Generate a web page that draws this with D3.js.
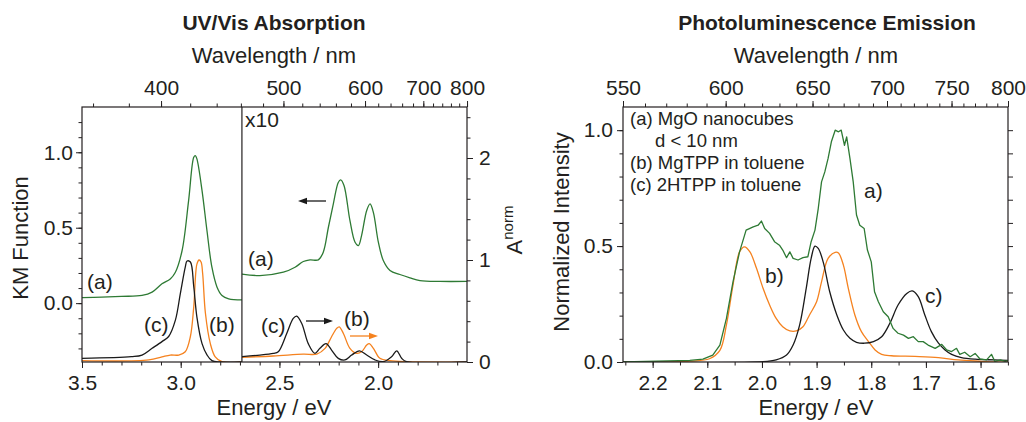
<!DOCTYPE html>
<html><head><meta charset="utf-8">
<script src="https://cdn.jsdelivr.net/npm/d3@7"></script>
<style>
body{margin:0;background:#fff;}
svg text{font-family:'Liberation Sans',Arial,Helvetica,sans-serif;fill:#231f20;}
</style></head><body>
<svg id="chart" width="1026" height="422"></svg>
<script>
// ---------------- DATA ----------------
// UV/Vis absorption, Soret region (left sub-panel)
const uvA1_E  = [3.50, 3.40, 3.30, 3.196, 3.145, 3.095, 3.053, 3.027, 2.993, 2.960, 2.934, 2.926, 2.918, 2.892, 2.867, 2.842, 2.816, 2.791, 2.757, 2.69];
const uvA1_KM = [0.036, 0.040, 0.045, 0.051, 0.073, 0.128, 0.160, 0.205, 0.349, 0.680, 0.967, 0.978, 0.956, 0.746, 0.480, 0.238, 0.106, 0.051, 0.029, 0.022];
const uvB1_E  = [3.50, 3.162, 3.095, 3.053, 3.010, 2.977, 2.951, 2.934, 2.918, 2.907, 2.897, 2.889, 2.875, 2.850, 2.825, 2.791, 2.69];
const uvB1_A  = [0.013, 0.020, 0.050, 0.068, 0.068, 0.100, 0.250, 0.540, 0.960, 1.000, 0.980, 0.870, 0.480, 0.180, 0.050, 0.003, 0.0];
const uvC1_E  = [3.50, 3.25, 3.196, 3.145, 3.095, 3.061, 3.027, 3.002, 2.977, 2.968, 2.951, 2.934, 2.918, 2.892, 2.867, 2.842, 2.80, 2.69];
const uvC1_A  = [0.036, 0.052, 0.068, 0.134, 0.200, 0.250, 0.410, 0.670, 0.930, 0.990, 0.980, 0.740, 0.440, 0.180, 0.070, 0.013, 0.0, 0.0];
// Q-band region (right sub-panel), green shown x10 on KM axis
const uvA2_E  = [2.70, 2.599, 2.48, 2.421, 2.379, 2.345, 2.303, 2.278, 2.252, 2.227, 2.202, 2.19, 2.173, 2.143, 2.117, 2.10, 2.084, 2.058, 2.041, 2.024, 1.999, 1.974, 1.94, 1.89, 1.839, 1.788, 1.687, 1.55];
const uvA2_KM = [0.195, 0.183, 0.205, 0.238, 0.276, 0.287, 0.287, 0.338, 0.503, 0.658, 0.800, 0.817, 0.780, 0.548, 0.404, 0.382, 0.448, 0.614, 0.658, 0.600, 0.404, 0.283, 0.217, 0.190, 0.168, 0.150, 0.144, 0.144];
const uvB2_E  = [2.70, 2.531, 2.379, 2.311, 2.269, 2.236, 2.21, 2.197, 2.176, 2.143, 2.109, 2.084, 2.058, 2.045, 2.024, 1.991, 1.94, 1.856, 1.55];
const uvB2_A  = [0.046, 0.059, 0.078, 0.078, 0.134, 0.248, 0.330, 0.345, 0.280, 0.134, 0.085, 0.100, 0.166, 0.180, 0.134, 0.036, 0.013, 0.003, 0.0];
const uvC2_E  = [2.70, 2.599, 2.531, 2.506, 2.463, 2.43, 2.413, 2.387, 2.354, 2.32, 2.295, 2.264, 2.236, 2.202, 2.168, 2.134, 2.095, 2.058, 2.016, 1.974, 1.932, 1.906, 1.881, 1.856, 1.55];
const uvC2_A  = [0.052, 0.068, 0.085, 0.100, 0.280, 0.427, 0.450, 0.378, 0.180, 0.085, 0.134, 0.180, 0.117, 0.036, 0.020, 0.068, 0.110, 0.068, 0.020, 0.003, 0.052, 0.110, 0.036, 0.003, 0.0];
// Photoluminescence
const plA_E = [2.254, 2.132, 2.108, 2.090, 2.077, 2.065, 2.053, 2.041, 2.029, 2.016, 2.007, 2.001, 1.995, 1.986, 1.977, 1.968, 1.962, 1.955, 1.949, 1.943, 1.934, 1.925, 1.916, 1.910, 1.903, 1.897, 1.891, 1.885, 1.879, 1.873, 1.866, 1.860, 1.855, 1.849, 1.845, 1.839, 1.833, 1.827, 1.821, 1.813, 1.807, 1.800, 1.794, 1.787, 1.778, 1.769, 1.760, 1.751, 1.741, 1.732, 1.723, 1.714, 1.705, 1.696, 1.683, 1.671, 1.662, 1.653, 1.644, 1.638, 1.629, 1.619, 1.610, 1.601, 1.589, 1.580, 1.574, 1.564, 1.555, 1.550];
const plA_I = [0, 0.007, 0.012, 0.03, 0.073, 0.188, 0.346, 0.475, 0.569, 0.583, 0.59, 0.608, 0.576, 0.555, 0.519, 0.504, 0.483, 0.45, 0.475, 0.447, 0.44, 0.45, 0.454, 0.519, 0.569, 0.662, 0.777, 0.82, 0.878, 0.95, 1.0, 0.993, 1.0, 0.935, 0.971, 0.878, 0.777, 0.634, 0.59, 0.576, 0.483, 0.432, 0.303, 0.26, 0.217, 0.195, 0.145, 0.124, 0.116, 0.102, 0.109, 0.088, 0.088, 0.073, 0.059, 0.076, 0.052, 0.045, 0.059, 0.033, 0.042, 0.023, 0.037, 0.013, 0.009, 0.033, 0.003, 0.009, 0.003, 0.006];
const plB_E = [2.254, 2.132, 2.096, 2.077, 2.065, 2.053, 2.041, 2.032, 2.022, 2.010, 1.998, 1.986, 1.974, 1.962, 1.949, 1.937, 1.925, 1.913, 1.900, 1.891, 1.879, 1.866, 1.860, 1.851, 1.842, 1.830, 1.818, 1.805, 1.793, 1.781, 1.763, 1.720, 1.677, 1.641, 1.598, 1.574, 1.550];
const plB_I = [0, 0.004, 0.014, 0.05, 0.16, 0.332, 0.475, 0.497, 0.475, 0.404, 0.318, 0.246, 0.188, 0.152, 0.134, 0.134, 0.152, 0.203, 0.26, 0.346, 0.447, 0.473, 0.47, 0.418, 0.318, 0.203, 0.131, 0.088, 0.052, 0.033, 0.027, 0.024, 0.019, 0.009, 0.003, 0, 0];
const plC_E = [2.254, 1.998, 1.974, 1.955, 1.943, 1.931, 1.919, 1.910, 1.903, 1.897, 1.888, 1.876, 1.863, 1.851, 1.839, 1.827, 1.812, 1.796, 1.781, 1.766, 1.751, 1.735, 1.725, 1.714, 1.702, 1.690, 1.677, 1.665, 1.653, 1.635, 1.610, 1.574, 1.550];
const plC_I = [0, 0.001, 0.009, 0.03, 0.073, 0.16, 0.318, 0.447, 0.50, 0.49, 0.432, 0.303, 0.203, 0.138, 0.102, 0.085, 0.081, 0.088, 0.109, 0.167, 0.246, 0.296, 0.307, 0.282, 0.203, 0.131, 0.081, 0.052, 0.033, 0.019, 0.012, 0.009, 0.007];
// Tick labels
const uvEnergyTicks = [3.5, 3.0, 2.5, 2.0];
const uvNmTicks = [400, 500, 600, 700, 800];
const kmTicks = [0.0, 0.5, 1.0];
const aNormTicks = [0, 1, 2];
const plEnergyTicks = [2.2, 2.1, 2.0, 1.9, 1.8, 1.7, 1.6];
const plNmTicks = [550, 600, 650, 700, 750, 800];
const plITicks = [0.0, 0.5, 1.0];
const legendLines = ["(a) MgO nanocubes", "d < 10 nm", "(b) MgTPP in toluene", "(c) 2HTPP in toluene"];

// ---------------- STYLE ----------------
const GREEN = '#2e7a34', ORANGE = '#f5821f', BLACK = '#1a1a1a', INK = '#231f20';
const FS = 21;      // tick labels, annotations
const FS_AX = 22;   // axis titles
const FS_T = 21;    // panel titles (bold)
const HC = 1239.84;

const svg = d3.select('#chart');
const defs = svg.append('defs');

function nmScale(xE){
  const f = nm => xE(HC/nm);
  f.copy = () => nmScale(xE);
  f.range = () => xE.range();
  f.domain = () => xE.domain().map(e => HC/e);
  return f;
}
function styleAxis(g){
  g.select('.domain').remove();
  g.selectAll('line').attr('stroke', INK).attr('stroke-width', 1);
  g.selectAll('text').attr('font-size', FS).attr('fill', INK)
    .style('font-family', "'Liberation Sans',Arial,Helvetica,sans-serif");
  return g;
}
function addAxis(gen, tx, ty){
  const g = svg.append('g').attr('transform', `translate(${tx},${ty})`).call(gen);
  return styleAxis(g);
}
function clip(id, x0, y0, x1, y1){
  defs.append('clipPath').attr('id', id).append('rect')
    .attr('x', x0).attr('y', y0).attr('width', x1 - x0).attr('height', y1 - y0);
}
function drawLine(xs, ys, xScale, yScale, color, clipId, curve){
  const pts = d3.zip(xs, ys);
  svg.append('path').datum(pts)
    .attr('clip-path', `url(#${clipId})`)
    .attr('fill', 'none').attr('stroke', color).attr('stroke-width', 1.3)
    .attr('stroke-linejoin', 'round')
    .attr('d', d3.line().x(d => xScale(d[0])).y(d => yScale(d[1])).curve(curve || d3.curveCatmullRom.alpha(0.5)));
}
function label(txt, x, y, opts = {}){
  const t = svg.append('text').attr('x', x).attr('y', y).attr('font-size', opts.fs || FS)
    .attr('text-anchor', opts.anchor || 'start').attr('font-weight', opts.bold ? 'bold' : null).text(txt);
  if (opts.rotate) t.attr('transform', `rotate(-90,${x},${y})`);
  return t;
}
function arrow(x0, x1, y, color){
  const dir = Math.sign(x1 - x0);
  svg.append('line').attr('x1', x0).attr('x2', x1 - dir * 6).attr('y1', y).attr('y2', y)
    .attr('stroke', color).attr('stroke-width', 1.3);
  svg.append('path').attr('fill', color)
    .attr('d', `M${x1},${y} L${x1 - dir * 9},${y - 3.2} L${x1 - dir * 9},${y + 3.2} Z`);
}

// ================= UV/Vis panel =================
const U = {x0: 82, x1: 467, y0: 107, y1: 362};
const xUV = d3.scaleLinear().domain([3.5, 1.55]).range([U.x0, U.x1]);
const yKM = d3.scaleLinear().domain([-0.39, 1.30]).range([U.y1, U.y0]);
const yA = d3.scaleLinear().domain([0, 2.5]).range([U.y1, U.y0]);
const xDiv = xUV(2.69);
clip('uvL', U.x0, U.y0, xDiv, U.y1);
clip('uvR', xDiv, U.y0, U.x1, U.y1);

drawLine(uvA1_E, uvA1_KM, xUV, yKM, GREEN, 'uvL');
drawLine(uvB1_E, uvB1_A, xUV, yA, ORANGE, 'uvL');
drawLine(uvC1_E, uvC1_A, xUV, yA, BLACK, 'uvL');
drawLine(uvA2_E, uvA2_KM, xUV, yKM, GREEN, 'uvR');
drawLine(uvB2_E, uvB2_A, xUV, yA, ORANGE, 'uvR');
drawLine(uvC2_E, uvC2_A, xUV, yA, BLACK, 'uvR');

// axes
addAxis(d3.axisBottom(xUV).tickValues(d3.range(1.6, 3.501, 0.1)).tickSize(3.5).tickFormat(''), 0, U.y1);
addAxis(d3.axisBottom(xUV).tickValues(uvEnergyTicks).tickSize(6).tickPadding(7).tickFormat(d3.format('.1f')), 0, U.y1);
const nmUV = nmScale(xUV);
addAxis(d3.axisTop(nmUV).tickValues(d3.range(360, 801, 20)).tickSize(3.5).tickFormat(''), 0, U.y0);
addAxis(d3.axisTop(nmUV).tickValues(uvNmTicks).tickSize(6).tickPadding(6).tickFormat(d3.format('d')), 0, U.y0);
addAxis(d3.axisLeft(yKM).tickValues(d3.range(-0.3, 1.25, 0.1)).tickSize(3.5).tickFormat(''), U.x0, 0);
addAxis(d3.axisLeft(yKM).tickValues(kmTicks).tickSize(6).tickPadding(3).tickFormat(d3.format('.1f')), U.x0, 0);
addAxis(d3.axisRight(yA).tickValues(d3.range(0.2, 2.41, 0.2)).tickSize(3.5).tickFormat(''), U.x1, 0);
addAxis(d3.axisRight(yA).tickValues(aNormTicks).tickSize(6).tickPadding(6).tickFormat(d3.format('d')), U.x1, 0);

svg.append('rect').attr('x', U.x0).attr('y', U.y0).attr('width', U.x1 - U.x0).attr('height', U.y1 - U.y0)
  .attr('fill', 'none').attr('stroke', INK).attr('stroke-width', 1.2);
svg.append('line').attr('x1', xDiv).attr('x2', xDiv).attr('y1', U.y0).attr('y2', U.y1)
  .attr('stroke', INK).attr('stroke-width', 1.2);

label('UV/Vis Absorption', 274, 30, {anchor: 'middle', bold: true, fs: FS_T});
label('Wavelength / nm', 274, 63, {anchor: 'middle', fs: FS_AX});
label('Energy / eV', 274, 415, {anchor: 'middle', fs: FS_AX});
label('KM Function', 28, 238, {anchor: 'middle', rotate: true, fs: FS_AX});
const an = svg.append('text').attr('x', 522).attr('y', 230).attr('font-size', FS_AX)
  .attr('text-anchor', 'middle').attr('transform', 'rotate(-90,522,230)');
an.append('tspan').text('A');
an.append('tspan').attr('dy', -9).attr('font-size', 15).text('norm');

label('x10', 245, 127);
label('(a)', 87, 289);
label('(c)', 144, 332);
label('(b)', 209, 332);
label('(a)', 248, 266);
label('(c)', 261, 333);
label('(b)', 344, 326);
arrow(326, 298, 201, BLACK);
arrow(306, 333, 321, BLACK);
arrow(350, 378, 336, ORANGE);

// ================= PL panel =================
const P = {x0: 623, x1: 1008, y0: 107, y1: 362};
const xPL = d3.scaleLinear().domain([HC / 550, HC / 800]).range([P.x0, P.x1]);
const yPL = d3.scaleLinear().domain([0, 1.1]).range([P.y1, P.y0]);
clip('pl', P.x0, P.y0, P.x1, P.y1);

drawLine(plB_E, plB_I, xPL, yPL, ORANGE, 'pl');
drawLine(plC_E, plC_I, xPL, yPL, BLACK, 'pl');
drawLine(plA_E, plA_I, xPL, yPL, GREEN, 'pl', d3.curveLinear);

addAxis(d3.axisBottom(xPL).tickValues(d3.range(1.55, 2.26, 0.05)).tickSize(3.5).tickFormat(''), 0, P.y1);
addAxis(d3.axisBottom(xPL).tickValues(plEnergyTicks).tickSize(6).tickPadding(7).tickFormat(d3.format('.1f')), 0, P.y1);
const nmPL = nmScale(xPL);
addAxis(d3.axisTop(nmPL).tickValues(d3.range(550, 801, 10)).tickSize(3.5).tickFormat(''), 0, P.y0);
addAxis(d3.axisTop(nmPL).tickValues(plNmTicks).tickSize(6).tickPadding(6).tickFormat(d3.format('d')), 0, P.y0);
addAxis(d3.axisLeft(yPL).tickValues(d3.range(0.1, 1.05, 0.1)).tickSize(3.5).tickFormat(''), P.x0, 0);
addAxis(d3.axisLeft(yPL).tickValues(plITicks).tickSize(6).tickPadding(4).tickFormat(d3.format('.1f')), P.x0, 0);
addAxis(d3.axisRight(yPL).tickValues(d3.range(0.1, 1.05, 0.1)).tickSize(5).tickFormat(''), P.x1, 0);

svg.append('rect').attr('x', P.x0).attr('y', P.y0).attr('width', P.x1 - P.x0).attr('height', P.y1 - P.y0)
  .attr('fill', 'none').attr('stroke', INK).attr('stroke-width', 1.2);

label('Photoluminescence Emission', 827, 30, {anchor: 'middle', bold: true, fs: FS_T});
label('Wavelength / nm', 816, 63, {anchor: 'middle', fs: FS_AX});
label('Energy / eV', 816, 415, {anchor: 'middle', fs: FS_AX});
label('Normalized Intensity', 569, 232, {anchor: 'middle', rotate: true, fs: FS_AX});
label(legendLines[0], 630, 125, {fs: 18.5});
label(legendLines[1], 655, 147, {fs: 18.5});
label(legendLines[2], 630, 169, {fs: 18.5});
label(legendLines[3], 630, 191, {fs: 18.5});
label('a)', 864, 198);
label('b)', 765, 283);
label('c)', 925, 303);
</script>
</body></html>
